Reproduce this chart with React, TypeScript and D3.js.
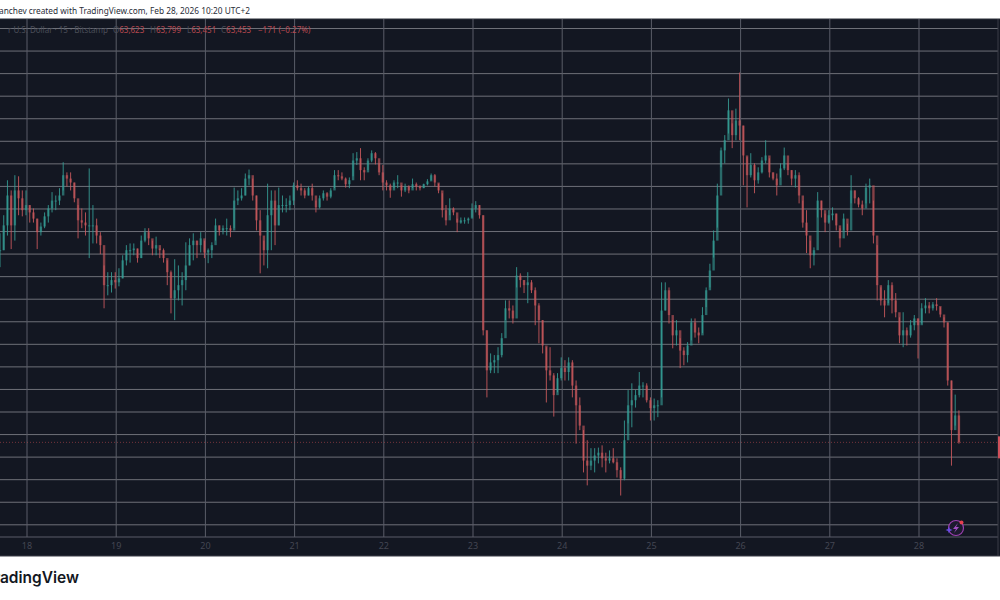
import React, { useEffect, useRef } from 'react';
import * as d3 from 'd3';

// BTC/USD, one sample per hour, first sample on the 17th
const highs = [
  67160, 67480, 68100, 67920, 68190, 68170, 67920, 67920, 67660, 67600, 67420, 67350, 67530, 67660, 67890, 67830, 67960, 68420, 68240, 68240,
  68060, 67660, 67600, 67530, 68310, 67660, 67420, 67180, 66590, 66470, 66470, 66470, 66540, 66770, 66950, 66980, 66980, 66890, 67120, 67250,
  67250, 67030, 67100, 66890, 66890, 66680, 66500, 66700, 66590, 66470, 67000, 67070, 67160, 67030, 67180, 67030, 66890, 67000, 67420, 67300,
  67300, 67420, 67300, 67970, 67920, 67960, 68220, 68290, 68130, 67830, 67570, 67030, 68040, 67920, 67920, 67970, 67830, 67780, 67830, 68060,
  68100, 68040, 67960, 67990, 68040, 67740, 67830, 67920, 67890, 67960, 68280, 68280, 68240, 68150, 68150, 68580, 68600, 68670, 68330, 68490,
  68630, 68600, 68400, 68370, 68100, 68040, 68100, 68190, 68010, 68040, 68010, 68130, 68060, 68010, 68040, 68120, 68220, 68210, 68040, 67870,
  67660, 67780, 67620, 67420, 67440, 67440, 67440, 67690, 67730, 67660, 67480, 65440, 65030, 65000, 65140, 65390, 65970, 65970, 65880, 66560,
  66450, 66330, 66470, 66330, 66200, 65920, 65620, 65140, 65140, 64680, 64680, 64960, 64910, 64960, 64910, 64550, 64250, 63670, 63490, 63350,
  63350, 63360, 63400, 63270, 63310, 63350, 63170, 63010, 63840, 64380, 64500, 64380, 64700, 64520, 64500, 64250, 64230, 64200, 66290, 66290,
  66200, 65620, 65620, 65300, 65140, 65230, 65650, 65650, 65490, 65850, 66200, 66620, 67210, 68040, 68680, 68900, 69550, 69110, 69370, 70010,
  69070, 68510, 68580, 68400, 68330, 68510, 68810, 68490, 68240, 68220, 68400, 68680, 68400, 68280, 68280, 68240, 67740, 67570, 67030, 66910,
  67890, 67740, 67510, 67570, 67620, 67510, 67250, 67510, 67330, 68190, 67920, 67800, 67740, 68040, 68130, 67740, 66950, 66200, 66150, 66330,
  66290, 66100, 65670, 65760, 65490, 65620, 65710, 65650, 65920, 66010, 65940, 65940, 66010, 65850, 65670, 65580, 64550, 64300, 64020,
];

const lows = [
  66560, 66860, 67120, 66880, 67030, 67480, 67460, 67480, 67350, 67350, 66880, 67120, 67250, 67350, 67530, 67570, 67660, 67920, 67990, 67920,
  67710, 67070, 67250, 67120, 66720, 66980, 66980, 66790, 65830, 66060, 66110, 66180, 66220, 66360, 66590, 66640, 66770, 66640, 66720, 67000,
  66950, 66770, 66770, 66720, 66640, 66240, 65740, 65620, 65970, 65880, 66150, 66590, 66680, 66720, 66820, 66720, 66630, 66720, 67030, 67120,
  67140, 67120, 67090, 67250, 67660, 67740, 67830, 68010, 67740, 67210, 66450, 66590, 66540, 66860, 66950, 67300, 67530, 67530, 67570, 67660,
  67920, 67830, 67780, 67830, 67740, 67530, 67600, 67740, 67740, 67780, 67960, 68100, 68100, 67970, 67960, 68170, 68370, 68100, 68100, 68280,
  68420, 68380, 68190, 67920, 67920, 67790, 67960, 67960, 67810, 67890, 67870, 67960, 67920, 67920, 67960, 68010, 68100, 67990, 67870, 67440,
  67300, 67480, 67480, 67180, 67330, 67330, 67330, 67440, 67530, 67420, 65350, 64250, 64680, 64680, 64680, 64960, 65620, 65650, 65560, 66200,
  66200, 66100, 65920, 66100, 65530, 65210, 65030, 64160, 64550, 63910, 64340, 64550, 64550, 64550, 64250, 63430, 63670, 62920, 62690, 62960,
  62920, 63080, 63010, 62920, 63080, 63080, 62830, 62510, 62780, 63790, 63720, 64070, 64250, 64250, 64160, 63840, 63840, 63900, 64250, 65790,
  65560, 65120, 65170, 64770, 64820, 64870, 65260, 65310, 65210, 65390, 65850, 66200, 66730, 67260, 68330, 68400, 68930, 68670, 68810, 68810,
  68010, 67620, 68150, 67870, 68040, 68220, 68400, 68150, 68100, 67830, 68150, 68280, 68190, 68010, 67970, 67690, 67260, 66810, 66540, 66590,
  67440, 67440, 67180, 67330, 67390, 67210, 66910, 67210, 67120, 67690, 67690, 67620, 67480, 67690, 67690, 66980, 65970, 65880, 65670, 65920,
  65740, 65670, 65210, 65140, 65170, 65310, 65440, 64940, 65560, 65740, 65740, 65790, 65790, 65670, 65490, 64460, 63040, 63750, 63430,
];

const closes = [
  66860, 67300, 67830, 67300, 67920, 67780, 67570, 67660, 67530, 67420, 67180, 67280, 67460, 67600, 67740, 67740, 67830, 68190, 68130, 68060,
  67780, 67390, 67350, 67300, 67300, 67300, 67120, 66950, 66240, 66240, 66330, 66290, 66360, 66680, 66860, 66860, 66890, 66720, 67030, 67180,
  67070, 66890, 66950, 66860, 66720, 66470, 66010, 66150, 66240, 66330, 66590, 66950, 67030, 66950, 67070, 66820, 66860, 66950, 67300, 67210,
  67250, 67250, 67210, 67740, 67780, 67830, 68130, 68190, 67830, 67390, 67120, 66860, 67480, 67740, 67300, 67660, 67660, 67660, 67740, 68010,
  67960, 67920, 67830, 67960, 67830, 67620, 67780, 67870, 67810, 67920, 68190, 68170, 68130, 68030, 68100, 68450, 68490, 68280, 68240, 68450,
  68580, 68490, 68240, 68060, 68010, 67920, 68060, 68060, 67920, 67990, 67920, 68030, 67990, 67960, 68030, 68080, 68190, 68060, 67920, 67570,
  67390, 67600, 67530, 67350, 67390, 67390, 67420, 67600, 67660, 67480, 65440, 64730, 64870, 64910, 65000, 65300, 65830, 65790, 65650, 66410,
  66330, 66240, 66290, 66150, 65880, 65620, 65170, 64730, 64640, 64290, 64590, 64770, 64700, 64870, 64460, 64110, 63750, 63130, 63040, 63130,
  63220, 63270, 63170, 63130, 63170, 63100, 62960, 62810, 63490, 64110, 64200, 64290, 64460, 64460, 64200, 64060, 64110, 64110, 65790, 66150,
  65710, 65350, 65440, 65080, 65000, 65170, 65580, 65400, 65350, 65710, 66150, 66500, 67030, 67830, 68630, 68810, 69340, 68900, 69160, 69070,
  68540, 68190, 68370, 68100, 68240, 68450, 68540, 68240, 68130, 68010, 68310, 68540, 68280, 68130, 68190, 67830, 67350, 67120, 66770, 66860,
  67740, 67570, 67350, 67480, 67510, 67300, 67070, 67420, 67210, 67920, 67780, 67670, 67600, 67970, 68010, 67120, 66240, 65970, 65880, 66240,
  65970, 65760, 65350, 65440, 65350, 65530, 65650, 65530, 65830, 65880, 65830, 65900, 65870, 65720, 65580, 64550, 63670, 63930, 63453,
];

const dayTicks = [18, 19, 20, 21, 22, 23, 24, 25, 26, 27, 28];
const priceTicks = [
  62000, 62400, 62800, 63200, 63600, 64000, 64400, 64800, 65200, 65600, 66000, 66400,
  66800, 67200, 67600, 68000, 68400, 68800, 69200, 69600, 70000, 70400, 70800,
];
const lastPrice = 63453;

const legendName = 'r U.S. Dollar · 15 · Bitstamp';
const legendValues = [
  { label: 'O', value: '63,623', x: 113 },
  { label: 'H', value: '63,799', x: 150 },
  { label: 'L', value: '63,451', x: 187 },
  { label: 'C', value: '63,453', x: 221 },
];
const legendChange = '−171 (−0.27%)';
const headerText = 'anchev created with TradingView.com, Feb 28, 2026 10:20 UTC+2';

const App: React.FC = () => {
  const svgRef = useRef<SVGSVGElement>(null);

  useEffect(() => {
    if (!svgRef.current) return;
    document.body.style.margin = '0';
    document.body.style.background = '#ffffff';

    const svg = d3.select(svgRef.current);
    svg.selectAll('*').remove();

    const plotRight = 998;
    const plotTop = 19;
    const axisY = 537;
    const plotBottom = 556;
    const startDay = 17.703;

    const xScale = d3.scaleLinear().domain([18, 28]).range([26.5, 918.5]);
    const yScale = d3.scaleLinear().domain([62000, 70800]).range([524.3, 28]);

    // The reference is a soft, rescaled screenshot
    svg.append('defs')
      .append('filter')
      .attr('id', 'soft')
      .append('feGaussianBlur')
      .attr('stdDeviation', 0.35);

    // Panel
    svg.append('rect')
      .attr('x', 0)
      .attr('y', plotTop)
      .attr('width', 1000)
      .attr('height', plotBottom - plotTop)
      .attr('fill', '#131722');

    svg.append('line')
      .attr('x1', 0)
      .attr('x2', 1000)
      .attr('y1', plotTop)
      .attr('y2', plotTop)
      .attr('stroke', '#2a2e39');

    svg.append('line')
      .attr('x1', 0)
      .attr('x2', 1000)
      .attr('y1', plotBottom)
      .attr('y2', plotBottom)
      .attr('stroke', '#3a3d47');

    // Grid lines, as axes with long ticks
    const yGrid = svg.append('g')
      .call(d3.axisRight(yScale)
        .tickValues(priceTicks)
        .tickSize(plotRight)
        .tickFormat(() => ''));
    yGrid.select('.domain').remove();
    yGrid.selectAll('line')
      .attr('stroke', '#6e7078')
      .attr('stroke-width', 1);

    const xAxis = svg.append('g')
      .attr('transform', `translate(0,${axisY})`)
      .call(d3.axisBottom(xScale)
        .tickValues(dayTicks)
        .tickSize(-(axisY - plotTop))
        .tickPadding(6)
        .tickFormat(d => String(d)));
    xAxis.select('.domain').remove();
    xAxis.selectAll('line')
      .attr('stroke', '#5a5d68')
      .attr('stroke-width', 1);
    xAxis.selectAll('text')
      .attr('y', 6)
      .attr('font-family', '"Noto Sans", sans-serif')
      .attr('font-size', '9px')
      .attr('fill', '#434652');

    svg.append('line')
      .attr('x1', 0)
      .attr('x2', plotRight)
      .attr('y1', axisY)
      .attr('y2', axisY)
      .attr('stroke', '#5a5d68');

    svg.append('line')
      .attr('x1', plotRight)
      .attr('x2', plotRight)
      .attr('y1', plotTop)
      .attr('y2', plotBottom)
      .attr('stroke', '#3a3d47');

    // Last price line and its marker on the scale
    svg.append('line')
      .attr('x1', 0)
      .attr('x2', plotRight)
      .attr('y1', yScale(lastPrice))
      .attr('y2', yScale(lastPrice))
      .attr('stroke', '#b5474f')
      .attr('stroke-opacity', 0.6)
      .attr('stroke-dasharray', '1,2');

    svg.append('rect')
      .attr('x', plotRight)
      .attr('y', yScale(lastPrice) - 6)
      .attr('width', 2)
      .attr('height', 22)
      .attr('fill', '#d0505a');

    // Candles, each one opening where the one before closed
    const candles = closes.map((close, i) => ({
      day: startDay + i / 24,
      high: highs[i],
      low: lows[i],
      close,
      open: i === 0 ? close : closes[i - 1],
    }));
    const colorOf = (d: { open: number; close: number }) =>
      d.close >= d.open ? '#36a097' : '#cf5a5e';

    const marks = svg.append('g').attr('filter', 'url(#soft)');
    marks.selectAll('line.wick')
      .data(candles)
      .join('line')
      .attr('class', 'wick')
      .attr('x1', d => xScale(d.day))
      .attr('x2', d => xScale(d.day))
      .attr('y1', d => yScale(d.high))
      .attr('y2', d => yScale(d.low))
      .attr('stroke', d => colorOf(d))
      .attr('stroke-opacity', 0.85)
      .attr('stroke-width', 1);

    marks.selectAll('rect.body')
      .data(candles)
      .join('rect')
      .attr('class', 'body')
      .attr('x', d => xScale(d.day) - 1.2)
      .attr('y', d => Math.min(yScale(d.open), yScale(d.close)))
      .attr('width', 2.4)
      .attr('height', d => Math.max(1, Math.abs(yScale(d.open) - yScale(d.close))))
      .attr('fill', d => colorOf(d))
      .attr('fill-opacity', 0.6);

    // Legend row
    const legend = svg.append('g')
      .attr('font-family', '"Noto Sans", sans-serif')
      .attr('font-size', '8px');
    legend.append('text')
      .attr('x', 108)
      .attr('y', 33)
      .attr('text-anchor', 'end')
      .attr('fill', '#4a4d58')
      .text(legendName);
    legendValues.forEach(item => {
      const row = legend.append('text').attr('x', item.x).attr('y', 33);
      row.append('tspan').attr('fill', '#4a4d58').text(item.label);
      row.append('tspan').attr('fill', '#b5474f').text(item.value);
    });
    legend.append('text')
      .attr('x', 258)
      .attr('y', 33)
      .attr('fill', '#b5474f')
      .text(legendChange);

    // Header and logo
    svg.append('text')
      .attr('x', -1)
      .attr('y', 14)
      .attr('font-family', '"Noto Sans", sans-serif')
      .attr('font-size', '8.3px')
      .attr('fill', '#2a2e39')
      .text(headerText);

    svg.append('text')
      .attr('x', 79)
      .attr('y', 583)
      .attr('text-anchor', 'end')
      .attr('font-family', 'Inter, sans-serif')
      .attr('font-size', '15.5px')
      .attr('font-weight', 600)
      .attr('fill', '#131722')
      .text('TradingView');

    // Badge near the bottom right
    const badge = svg.append('g').attr('transform', 'translate(956,528)');
    badge.append('circle')
      .attr('r', 7.5)
      .attr('fill', '#1c1a2e')
      .attr('stroke', '#9c3fb0')
      .attr('stroke-width', 1.2);
    badge.append('path')
      .attr('d', 'M2,-5 L-3,1 L0,1 L-2,5 L3,-1 L0,-1 Z')
      .attr('fill', '#a24fc4');
    badge.append('circle')
      .attr('cx', 5.5)
      .attr('cy', -5.5)
      .attr('r', 2)
      .attr('fill', '#e5404f');
    badge.append('path')
      .attr('d', 'M-7,-1.5 L-6,1 L-3.5,2 L-6,3 L-7,5.5 L-8,3 L-10.5,2 L-8,1 Z')
      .attr('fill', '#6a4be0');
  }, []);

  return <svg ref={svgRef} width={1000} height={600} style={{ display: 'block' }}></svg>;
};

export default App;
